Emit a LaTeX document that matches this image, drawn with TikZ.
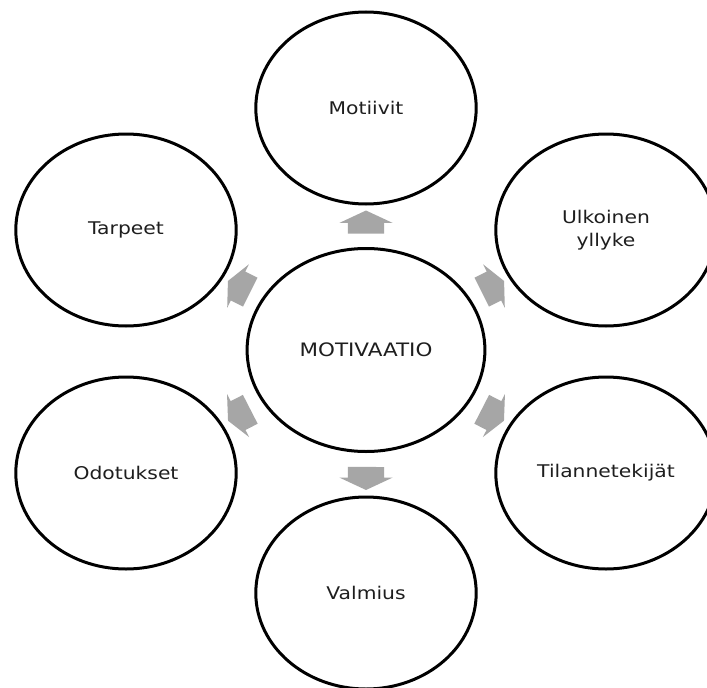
\documentclass[tikz,border=0pt]{standalone}
\usepackage{fontspec}
\setmainfont{DejaVu Sans}
\usetikzlibrary{shapes.geometric,shapes.arrows}
\definecolor{arrowgray}{RGB}{166,166,166}
\definecolor{textgray}{RGB}{30,30,30}
\tikzset{
  bubble/.style={ellipse, draw=black, line width=3pt, fill=white, xscale=1.16,
    minimum width=190pt, minimum height=192pt, inner sep=0pt, align=center,
    text=textgray, font=\fontsize{17.5}{23}\selectfont},
  hub/.style={bubble, minimum width=205pt, minimum height=203pt,
    font=\fontsize{18.5}{23}\selectfont},
  blockarrow/.style={single arrow, fill=arrowgray, draw=none, inner xsep=0pt,
    inner ysep=18pt, minimum height=23pt, single arrow head extend=8.5pt,
    single arrow tip angle=130, sloped, allow upside down, midway},
  diagarrow/.style={blockarrow, inner ysep=16pt, minimum height=25pt,
    single arrow head extend=8pt}
}
\begin{document}
\begin{tikzpicture}[x=1pt, y=-1pt]
  \fill[white] (0,0) rectangle (707,688);
  \useasboundingbox (0,0) rectangle (707,688);
  \node[hub]    (c)  at (366,350) {MOTIVAATIO};
  \node[bubble] (m)  at (366,108) {Motiivit};
  \node[bubble] (u)  at (606,230) {Ulkoinen\\yllyke};
  \node[bubble] (ti) at (606,473) {Tilannetekijät};
  \node[bubble] (v)  at (366,593) {Valmius};
  \node[bubble] (o)  at (126,473) {Odotukset};
  \node[bubble] (ta) at (126,230) {Tarpeet};
  \path (c) -- (m)  node[blockarrow] (a1) {};
  \path (c) -- (v)  node[blockarrow] (a2) {};
  \path (c) -- (u)  node[diagarrow] (a3) {};
  \path (c) -- (ti) node[diagarrow] (a4) {};
  \path (c) -- (o)  node[diagarrow] (a5) {};
  \path (c) -- (ta) node[diagarrow] (a6) {};
\end{tikzpicture}
\end{document}
